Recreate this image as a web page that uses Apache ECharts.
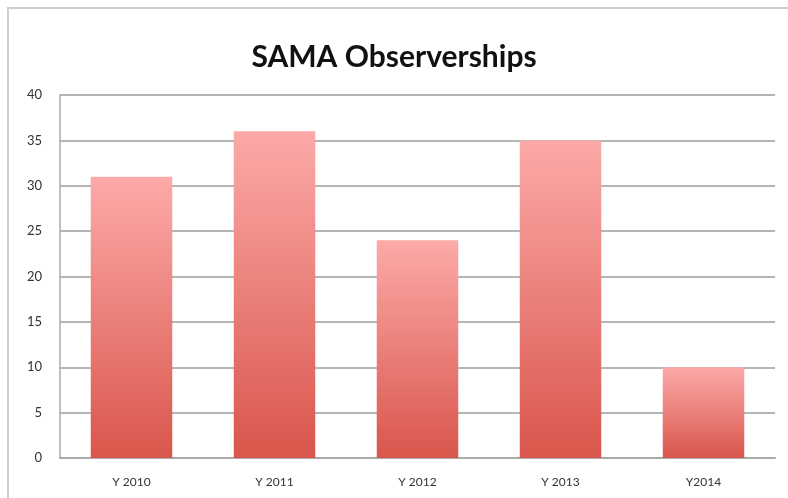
<!DOCTYPE html>
<html><head><meta charset="utf-8">
<script src="https://cdn.jsdelivr.net/npm/echarts@6/dist/echarts.min.js"></script>
<style>
html,body{margin:0;padding:0;background:#fff;}
#frame{position:absolute;left:7px;top:7px;width:800px;height:520px;border:2px solid #cfcfcf;box-sizing:border-box;}
#c{position:absolute;left:0;top:0;width:788px;height:498px;}
</style></head>
<body>
<div id="frame"></div>
<div id="c"></div>
<script>
const categories = ["Y 2010", "Y 2011", "Y 2012", "Y 2013", "Y2014"];
const values = [31, 36, 24, 35, 10];
const titleText = "SAMA Observerships";

const chart = echarts.init(document.getElementById('c'), null, {renderer: 'canvas'});
chart.setOption({
  animation: false,
  title: {
    text: titleText, left: 'center', top: 37,
    textStyle: {fontFamily: 'Lato', fontWeight: 'bold', fontSize: 30, color: '#111'}
  },
  grid: {left: 60, right: 13, top: 95, bottom: 40, containLabel: false},
  xAxis: {
    type: 'category', data: categories,
    axisLine: {lineStyle: {color: '#aaaaaa', width: 2}},
    axisTick: {show: false},
    axisLabel: {fontFamily: 'Lato', fontSize: 12, color: '#333', margin: 18}
  },
  yAxis: {
    type: 'value', min: 0, max: 40, interval: 5,
    axisLine: {show: true, lineStyle: {color: '#aaaaaa', width: 1.5}},
    axisTick: {show: false},
    splitLine: {lineStyle: {color: '#b5b5b5', width: 2}},
    axisLabel: {fontFamily: 'Lato', fontSize: 13, color: '#333', margin: 18}
  },
  series: [{
    type: 'bar', data: values, barWidth: '57%',
    itemStyle: {
      color: new echarts.graphic.LinearGradient(0, 0, 0, 1, [
        {offset: 0, color: '#fcaaa8'},
        {offset: 1, color: '#d9564c'}
      ])
    }
  }]
});
</script>
</body></html>
